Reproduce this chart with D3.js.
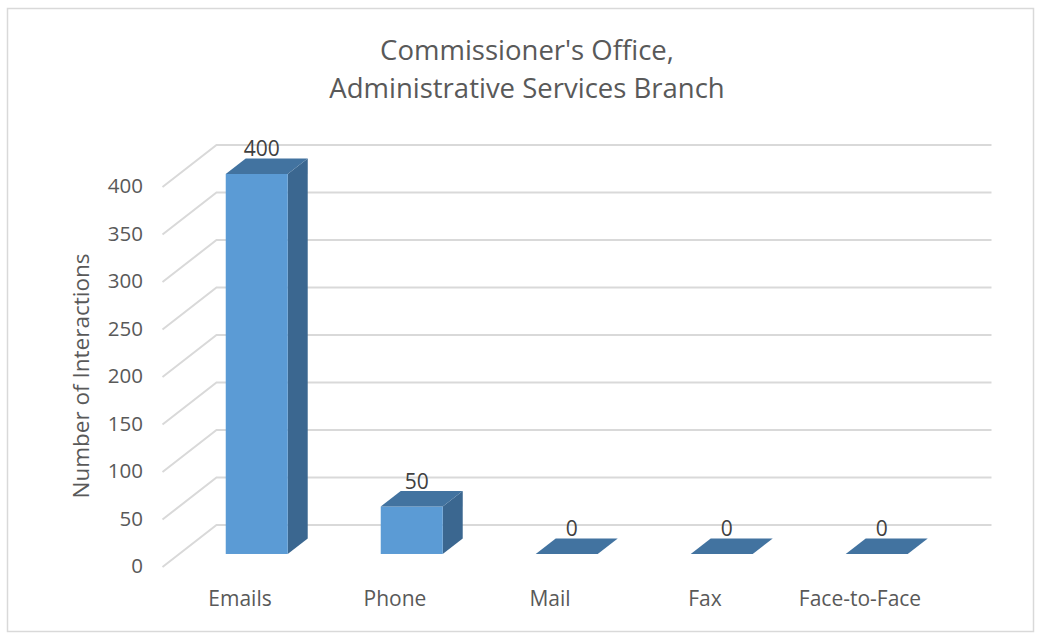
<!DOCTYPE html>
<html>
  <head>
    <title>Commissioner's Office</title>
    <style>
      body,
      html {
        margin: 0;
        padding: 0;
        background: #fff;
      }
      text {
        font-family: 'Open Sans', sans-serif;
        fill: #595959;
      }
    </style>
  </head>
  <body>
    <svg id="svg" width="1041" height="633"></svg>

    <script src="https://cdn.jsdelivr.net/npm/d3@7"></script>
    <script>
      const categories = ['Emails', 'Phone', 'Mail', 'Fax', 'Face-to-Face'];
      const interactions = [400, 50, 0, 0, 0];
      const yTicks = [0, 50, 100, 150, 200, 250, 300, 350, 400];
      const titleLines = ["Commissioner's Office,", 'Administrative Services Branch'];

      const svg = d3.select('#svg');

      // depth of the 3d box (front plane -> back wall)
      const depth = { x: 54, y: -42 };
      const barFront = 0.31; // fraction of depth where bar front sits
      const barDepth = 0.37;

      const xScale = d3
        .scaleBand()
        .domain(categories)
        .range([162.5, 937.5])
        .padding(0);
      const yScale = d3.scaleLinear().domain([0, 400]).range([567, 187]);

      svg
        .append('rect')
        .attr('x', 7.5)
        .attr('y', 8.5)
        .attr('width', 1026)
        .attr('height', 623)
        .attr('fill', '#fff')
        .attr('stroke', '#d9d9d9')
        .attr('stroke-width', 1.5);

      // gridlines: diagonal on side wall, then horizontal across back wall
      const x0 = xScale.range()[0];
      const x1 = xScale.range()[1];
      svg
        .append('g')
        .selectAll('path')
        .data(yTicks)
        .join('path')
        .attr(
          'd',
          (d) =>
            `M${x0},${yScale(d)}L${x0 + depth.x},${yScale(d) + depth.y}L${x1 + depth.x},${yScale(d) + depth.y}`
        )
        .attr('fill', 'none')
        .attr('stroke', '#d9d9d9')
        .attr('stroke-width', 2);

      // y tick labels
      svg
        .append('g')
        .selectAll('text')
        .data(yTicks)
        .join('text')
        .attr('x', 143)
        .attr('y', (d) => yScale(d) + 6)
        .attr('text-anchor', 'end')
        .attr('font-size', 20.5)
        .text((d) => d);

      // bars
      const bw = xScale.bandwidth() * 0.4;
      const fx = depth.x * barFront;
      const fy = depth.y * barFront;
      const dx = depth.x * barDepth;
      const dy = depth.y * barDepth;
      const bars = svg
        .append('g')
        .selectAll('g')
        .data(categories.map((c, i) => ({ c, v: interactions[i] })))
        .join('g');

      const barLeft = (d) => xScale(d.c) + xScale.bandwidth() / 2 - bw / 2 + fx;
      const barTop = (d) => yScale(d.v) + fy;
      const base = yScale(0) + fy;

      bars
        .filter((d) => d.v > 0)
        .append('path')
        .attr('d', (d) => {
          const l = barLeft(d);
          return `M${l + bw},${barTop(d)}L${l + bw + dx},${barTop(d) + dy}L${l + bw + dx},${base + dy}L${l + bw},${base}Z`;
        })
        .attr('fill', '#3b6790');

      bars
        .filter((d) => d.v > 0)
        .append('rect')
        .attr('x', barLeft)
        .attr('y', barTop)
        .attr('width', bw)
        .attr('height', (d) => base - barTop(d))
        .attr('fill', '#5b9bd5');

      bars
        .append('path')
        .attr('d', (d) => {
          const l = barLeft(d);
          const t = barTop(d);
          return `M${l},${t}L${l + dx},${t + dy}L${l + bw + dx},${t + dy}L${l + bw},${t}Z`;
        })
        .attr('fill', '#4273a0');

      // data labels
      bars
        .append('text')
        .attr('x', (d) => barLeft(d) + bw / 2 + 5)
        .attr('y', (d) => barTop(d) + dy - 2)
        .attr('text-anchor', 'middle')
        .attr('font-size', 21)
        .style('fill', '#404040')
        .text((d) => d.v);

      // category labels
      svg
        .append('g')
        .selectAll('text')
        .data(categories)
        .join('text')
        .attr('x', (d) => xScale(d) + xScale.bandwidth() / 2)
        .attr('y', 606)
        .attr('text-anchor', 'middle')
        .attr('font-size', 21)
        .text((d) => d);

      // axis title
      svg
        .append('text')
        .attr('transform', 'translate(89,376) rotate(-90)')
        .attr('text-anchor', 'middle')
        .attr('font-size', 22.5)
        .text('Number of Interactions');

      // chart title
      svg
        .append('g')
        .selectAll('text')
        .data(titleLines)
        .join('text')
        .attr('x', 527)
        .attr('y', (d, i) => 60 + i * 38)
        .attr('text-anchor', 'middle')
        .attr('font-size', 27.5)
        .text((d) => d);
    </script>
  </body>
</html>
